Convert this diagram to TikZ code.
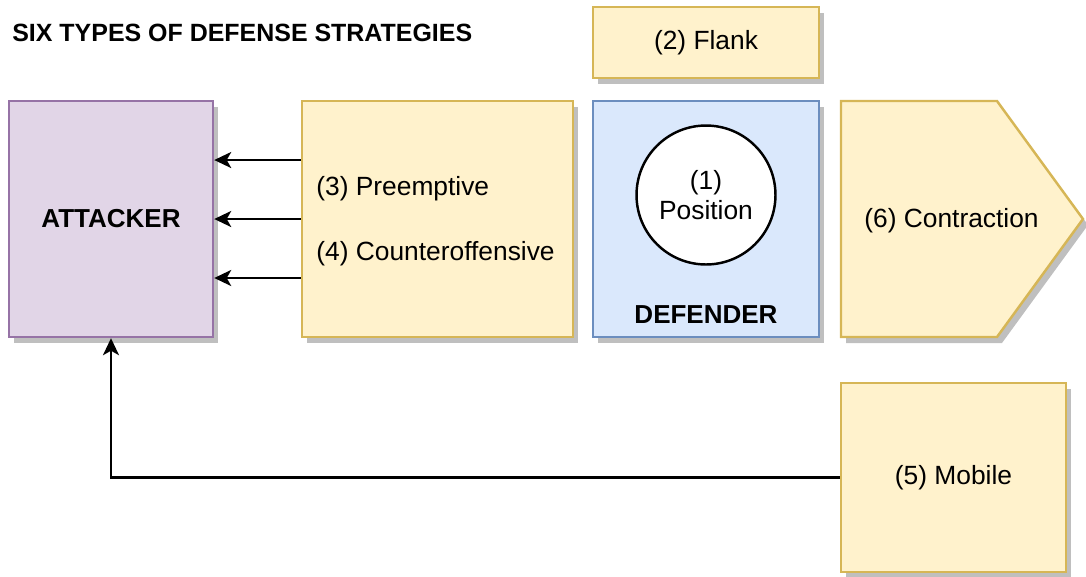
\documentclass[tikz,border=0pt]{standalone}
\usepackage{fontspec}
\setmainfont{Liberation Sans}
\usetikzlibrary{arrows.meta, positioning, shadows}
\definecolor{atkfill}{HTML}{E1D5E7}
\definecolor{atkline}{HTML}{9673A6}
\definecolor{stratfill}{HTML}{FFF2CC}
\definecolor{stratline}{HTML}{D6B656}
\definecolor{deffill}{HTML}{DAE8FC}
\definecolor{defline}{HTML}{6C8EBF}

\begin{document}
\begin{tikzpicture}[x=0.02cm, y=-0.02cm,
    shade/.style={drop shadow={shadow xshift=0.1cm, shadow yshift=-0.12cm, fill=black!25, opacity=1}},
    box/.style={rectangle, draw, line width=1.4pt, inner sep=0pt, shade, font=\fontsize{15}{17}\selectfont, align=center},
    attk/.style={box, draw=atkline, fill=atkfill, font=\fontsize{14.8}{17}\selectfont\bfseries},
    strat/.style={box, draw=stratline, fill=stratfill},
    defbox/.style={box, draw=defline, fill=deffill},
    posn/.style={circle, draw, line width=1.4pt, fill=white, inner sep=0pt, minimum size=2.78cm, font=\fontsize{15}{17}\selectfont, align=center},
    lbl/.style={inner sep=0pt, font=\fontsize{15}{17}\selectfont},
    arr/.style={-{Stealth[length=0.34cm, width=0.32cm, inset=0.09cm]}, line width=1.4pt},
  ]
  \useasboundingbox (0,0) rectangle (1086,576);

  \node[lbl, anchor=west, font=\fontsize{14.2}{17}\selectfont\bfseries] (title) at (12,33) {SIX TYPES OF DEFENSE STRATEGIES};

  \node[attk, minimum width=4.08cm, minimum height=4.72cm] (attacker) at (111,219) {ATTACKER};
  \node[strat, minimum width=5.42cm, minimum height=4.72cm] (preempt) at (437.5,219) {};
  \node[defbox, minimum width=4.52cm, minimum height=4.72cm] (defender) at (706,219) {};
  \node[strat, minimum width=4.52cm, minimum height=1.42cm] (flank) at (706,42.5) {(2) Flank};
  \node[strat, minimum width=4.5cm, minimum height=3.78cm] (mobile) at (953.5,477.5) {(5) Mobile};

  % contraction arrow shape
  \draw[line width=1.4pt, draw=stratline, fill=stratfill, shade]
    (841,101) -- (997,101) -- (1083,219) -- (997,337) -- (841,337) -- cycle;
  \node[lbl] (contraction) at (951.5,221) {(6) Contraction};

  \node[lbl, anchor=west] (pre) at (316,189) {(3) Preemptive};
  \node[lbl, anchor=west] (counter) at (316,254) {(4) Counteroffensive};

  \node[posn] (position) at (706,195) {(1)\\Position};
  \node[lbl, font=\fontsize{14.8}{17}\selectfont\bfseries] (deflbl) at (706,315) {DEFENDER};

  \foreach \dy in {1.18,0,-1.18}
    \draw[arr] ([yshift=\dy cm]preempt.west) -- ([yshift=\dy cm]attacker.east);
  \draw[arr] (mobile.west) -| (attacker.south);
\end{tikzpicture}
\end{document}
